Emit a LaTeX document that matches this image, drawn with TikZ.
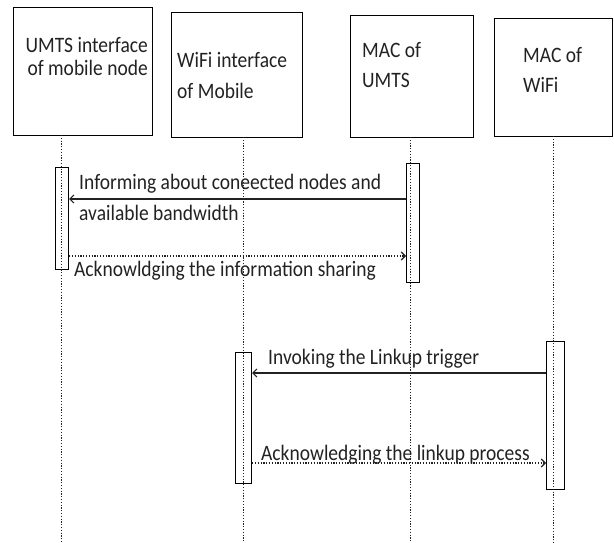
\documentclass[tikz,border=0pt]{standalone}
\usepackage{graphicx}
\usepackage{fontspec}
\setmainfont{Carlito}
\usetikzlibrary{arrows.meta}
\definecolor{ink}{HTML}{222222}
\newcommand{\tallln}[1]{\scalebox{1}[1.13]{#1}}
\tikzset{
  x=1pt, y=-1pt,
  hdr/.style={draw=black, line width=1.2pt, anchor=north west, inner sep=0pt},
  act/.style={draw=black, line width=1.1pt, anchor=north west, inner sep=0pt, fill=white},
  lbl/.style={text=ink, inner sep=0pt, align=left, anchor=base west, font={\fontsize{19.5pt}{31pt}\selectfont}},
  lifeline/.style={draw=ink, line width=0.9pt, dash pattern=on 1.2pt off 1.6pt},
  msg/.style={draw=ink, line width=1.1pt, -{Straight Barb[length=4pt,width=8pt]}},
  ackmsg/.style={draw=ink, line width=1.1pt, dash pattern=on 1.2pt off 1.6pt, -{Straight Barb[length=4pt,width=8pt]}}
}
\begin{document}
\begin{tikzpicture}
\useasboundingbox (0,0) rectangle (614,543);
% header boxes
\node[hdr, minimum width=139pt, minimum height=128pt] (b1) at (13,7) {};
\node[hdr, minimum width=131pt, minimum height=125pt] (b2) at (171,12) {};
\node[hdr, minimum width=123pt, minimum height=122pt] (b3) at (350,15) {};
\node[hdr, minimum width=118pt, minimum height=118pt] (b4) at (494,18) {};
% (base anchor of a multi-line node = baseline of its last line)
\node[lbl, align=right, anchor=base east, font={\fontsize{19.5pt}{23pt}\selectfont}] (t1) at (148,76) {\tallln{UMTS interface}\\\tallln{of mobile node}};
\node[lbl] (t2) at (177,99) {\tallln{WiFi interface}\\\tallln{of Mobile}};
\node[lbl, font={\fontsize{19.5pt}{30pt}\selectfont}] (t3) at (362,88) {\tallln{MAC of}\\\tallln{UMTS}};
\node[lbl, font={\fontsize{19.5pt}{30pt}\selectfont}] (t4) at (523,93) {\tallln{MAC of}\\\tallln{WiFi}};
% lifelines
\coordinate (l1t) at (61,135); \coordinate (l1b) at (61,543);
\coordinate (l2t) at (243,137); \coordinate (l2b) at (243,543);
\coordinate (l3t) at (410,137); \coordinate (l3b) at (410,543);
\coordinate (l4t) at (553,136); \coordinate (l4b) at (553,543);
% activation boxes
\node[act, minimum width=13pt, minimum height=102pt] (a1) at (55,167) {};
\node[act, minimum width=13pt, minimum height=119pt] (a3) at (406,163) {};
\node[act, minimum width=16pt, minimum height=131pt] (a2) at (235,352) {};
\node[act, minimum width=18pt, minimum height=148pt] (a4) at (546,341) {};
\draw[lifeline] (l1t) -- (l1b);
\draw[lifeline] (l2t) -- (l2b);
\draw[lifeline] (l3t) -- (l3b);
\draw[lifeline] (l4t) -- (l4b);
% messages
\draw[msg] (a3.west |- 0,199) -- (a1.east |- 0,199);
\draw[ackmsg] (a1.east |- 0,256) -- (a3.west |- 0,256);
\draw[msg] (a4.west |- 0,373) -- (a2.east |- 0,373);
\draw[ackmsg] (a2.east |- 0,463) -- (a4.west |- 0,463);
\node[lbl] (m1) at (79,220) {\tallln{Informing about coneected nodes and}\\\tallln{available bandwidth}};
\node[lbl] (m2) at (74,276) {\tallln{Acknowldging the information sharing}};
\node[lbl] (m3) at (268,364) {\tallln{Invoking the Linkup trigger}};
\node[lbl] (m4) at (261,460) {\tallln{Acknowledging the linkup process}};
\end{tikzpicture}
\end{document}
